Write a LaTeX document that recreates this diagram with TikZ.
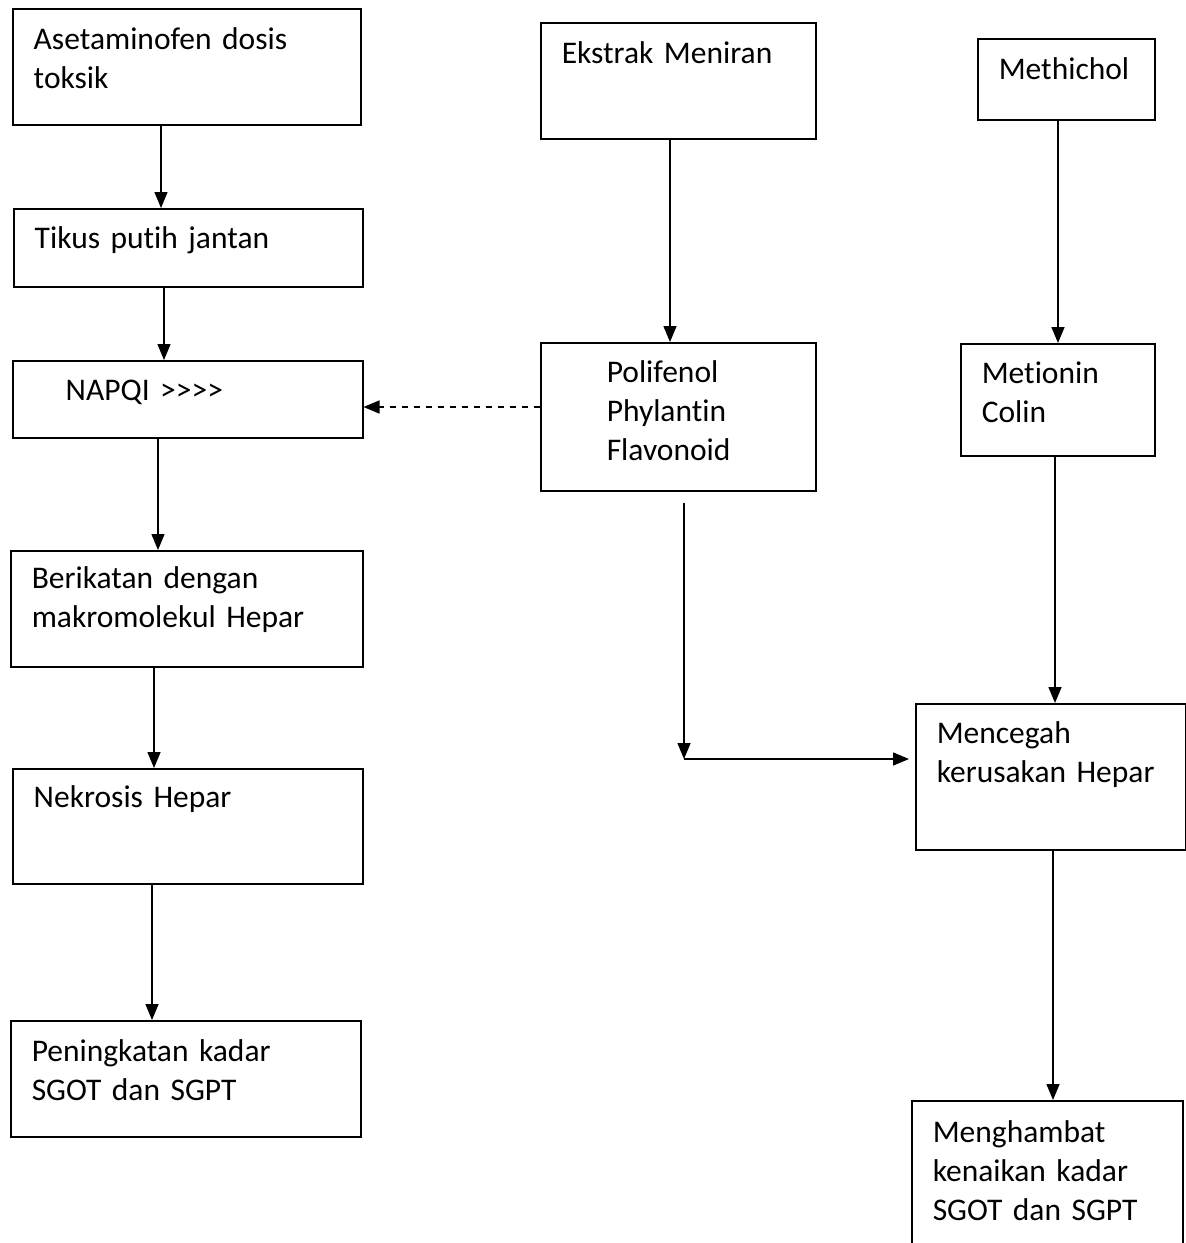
\documentclass[tikz,border=0pt]{standalone}
\usepackage{fontspec}
\setmainfont{Carlito}[Ligatures={NoCommon,TeXOff}]
\usepackage{tikz}
\usetikzlibrary{arrows.meta,calc}

\begin{document}
\begin{tikzpicture}[
  x=0.5pt, y=-0.5pt,
  >={Triangle[length=8pt,width=6.5pt]},
  line width=0.75pt,
  box/.style n args={3}{draw, anchor=north west, inner ysep=0pt,
    inner xsep=10.5pt, align=left, text width=#1,
    text height=#2, text depth=#3,
    font=\fontsize{15.75pt}{19.5pt}\selectfont},
  link/.style={->},
  hint/.style={->, dashed}
]
\useasboundingbox (0,0) rectangle (1186,1243);
% ---- left column: acetaminophen pathway ----
\node[box={153pt}{20.5pt}{37.5pt}] (ase) at (12,8)
  {Asetaminofen dosis\\toksik};
\node[box={153.5pt}{20pt}{19pt}] (tikus) at (13,208)
  {Tikus putih jantan};
\node[box={154pt}{20pt}{18.5pt}] (napqi) at (12,360)
  {\hspace*{16pt}NAPQI >>>>};
\node[box={155pt}{19pt}{39pt}] (ikat) at (10,550)
  {Berikatan dengan\\makromolekul Hepar};
\node[box={154pt}{19.5pt}{38pt}] (nekro) at (12,768)
  {Nekrosis Hepar};
\node[box={154pt}{20.5pt}{37.5pt}] (naik) at (10,1020)
  {Peningkatan kadar\\SGOT dan SGPT};
% ---- middle column: meniran extract ----
\node[box={116.5pt}{20.5pt}{37.5pt}] (ekstrak) at (540,22)
  {Ekstrak Meniran};
\node[box={116.5pt}{20pt}{54pt}] (zat) at (540,342)
  {\hspace*{22.5pt}Polifenol\\\hspace*{22.5pt}Phylantin\\\hspace*{22.5pt}Flavonoid};
% ---- right column: methichol ----
\node[box={67.5pt}{20.5pt}{20pt}] (methi) at (977,38)
  {Methichol};
\node[box={76pt}{20pt}{36pt}] (metio) at (960,343)
  {Metionin\\Colin};
\node[box={114pt}{20pt}{53pt}] (cegah) at (915,703)
  {Mencegah\\kerusakan Hepar};
\node[box={114.5pt}{21pt}{59pt}] (hambat) at (911,1100)
  {Menghambat\\kenaikan kadar\\SGOT dan SGPT};
% ---- connectors ----
\draw[link] (ase.south -| 161,0) -- (tikus.north -| 161,0);
\draw[link] (tikus.south -| 164,0) -- (napqi.north -| 164,0);
\draw[link] (napqi.south -| 158,0) -- (ikat.north -| 158,0);
\draw[link] (ikat.south -| 154,0) -- (nekro.north -| 154,0);
\draw[link] (nekro.south -| 152,0) -- (naik.north -| 152,0);
\draw[link] (ekstrak.south -| 670,0) -- (zat.north -| 670,0);
\draw[link] (methi.south -| 1058,0) -- (metio.north -| 1058,0);
\draw[link] (metio.south -| 1055,0) -- (cegah.north -| 1055,0);
\draw[link] (cegah.south -| 1053,0) -- (hambat.north -| 1053,0);
\draw[hint] (zat.west |- 0,407) -- (napqi.east |- 0,407);
\coordinate (turn) at (684,759);
\draw[link, shorten <=5.5pt] (zat.south -| turn) -- (turn);
\draw[link, shorten >=3pt] (turn) -- (cegah.west |- turn);
\end{tikzpicture}
\end{document}
